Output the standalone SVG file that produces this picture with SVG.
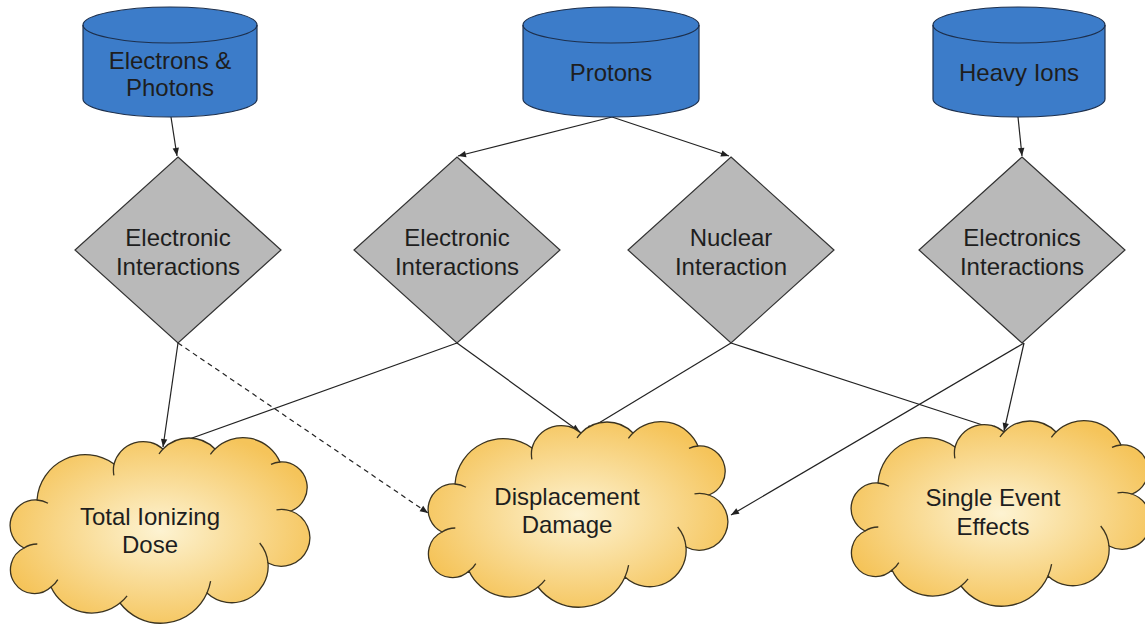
<svg xmlns="http://www.w3.org/2000/svg" xmlns:xlink="http://www.w3.org/1999/xlink" width="1145" height="625" viewBox="0 0 1145 625">
<style>
.cyl{fill:#3c7cc9;stroke:#1d2f4c;stroke-width:1.2}
.cylline{fill:none;stroke:#1d2f4c;stroke-width:1.2}
.dia{fill:#b9b9b9;stroke:#333;stroke-width:1.2}
.cloud{fill:url(#cg);stroke:#3a3320;stroke-width:1.3}
.curl{fill:none;stroke:#3a3320;stroke-width:1.3}
.t{font-family:"Liberation Sans",Arial,sans-serif;font-size:24px;fill:#1e1e1e;text-anchor:middle}
.c{fill:none;stroke:#222;stroke-width:1.2}
.dash{stroke-dasharray:5,4}
</style>
<defs>
<radialGradient id="cg" cx="0.5" cy="0.5" r="0.55">
<stop offset="0" stop-color="#fdf3d2"/>
<stop offset="1" stop-color="#f5c45a"/>
</radialGradient>
<marker id="arr" viewBox="0 0 10 10" refX="10" refY="5" markerWidth="9" markerHeight="8" orient="auto" markerUnits="userSpaceOnUse">
<path d="M0,1 L10,5 L0,9 Z" fill="#222"/>
</marker>
<g id="cloudShape">
<path class="cloud" d="M27,62 A48.5,48.5 0 0 1 104,26 A30.2,30.2 0 0 1 153,11 A36.2,36.2 0 0 1 205,11 A40.3,40.3 0 0 1 270,24 A25.4,25.4 0 0 1 281,73 A28.5,28.5 0 1 1 258,125 A36.4,36.4 0 0 1 197,155 A50.8,50.8 0 0 1 110,165 A44.9,44.9 0 0 1 41,149 A24,24 0 1 1 14,110 A25.4,25.4 0 0 1 27,62 Z"/>
<path class="curl" d="M27,62 A25.4,25.4 0 0 1 38,65.3 M103.9,37.4 A30.2,30.2 0 0 1 104,26 M149,16 A36.2,36.2 0 0 1 153,11 M200.4,16.3 A40.3,40.3 0 0 1 205,11 M261,26.4 A25.4,25.4 0 0 1 270,24 M266.5,71.8 A28.5,28.5 0 0 1 281,73 M249.7,105 A36.4,36.4 0 0 1 258,125 M200.6,143.2 A50.8,50.8 0 0 1 197,155 M117.1,157.8 A44.9,44.9 0 0 1 110,165 M47.8,141.6 A23.7,23.7 0 0 1 41,149 M14,110 A23.7,23.7 0 0 1 27.3,106"/>
</g>
</defs>
<rect width="1145" height="625" fill="#ffffff"/>

<g id="connectors">
<line class="c" x1="171" y1="117" x2="177" y2="156" marker-end="url(#arr)"/>
<line class="c" x1="612" y1="117" x2="458" y2="156" marker-end="url(#arr)"/>
<line class="c" x1="612" y1="117" x2="729" y2="156" marker-end="url(#arr)"/>
<line class="c" x1="1018" y1="117" x2="1022" y2="156" marker-end="url(#arr)"/>
<line class="c" x1="178" y1="343" x2="163" y2="447" marker-end="url(#arr)"/>
<line class="c dash" x1="178" y1="343" x2="428" y2="513" marker-end="url(#arr)"/>
<line class="c" x1="457" y1="343" x2="167" y2="447" marker-end="url(#arr)"/>
<line class="c" x1="457" y1="343" x2="580" y2="432" marker-end="url(#arr)"/>
<line class="c" x1="731" y1="343" x2="584" y2="432" marker-end="url(#arr)"/>
<line class="c" x1="731" y1="343" x2="1001" y2="431" marker-end="url(#arr)"/>
<line class="c" x1="1024" y1="343" x2="1004" y2="431" marker-end="url(#arr)"/>
<line class="c" x1="1024" y1="343" x2="731" y2="515" marker-end="url(#arr)"/>
</g>

<g id="src-electrons">
<path class="cyl" d="M83,25 A87,18 0 0 1 257,25 V99 A87,18 0 0 1 83,99 Z"/>
<path class="cylline" d="M83,25 A87,18 0 0 0 257,25"/>
<text class="t" x="170" y="69">Electrons &amp;</text>
<text class="t" x="170" y="96">Photons</text>
</g>
<g id="src-protons">
<path class="cyl" d="M523,25 A88,18 0 0 1 699,25 V99 A88,18 0 0 1 523,99 Z"/>
<path class="cylline" d="M523,25 A88,18 0 0 0 699,25"/>
<text class="t" x="611" y="81">Protons</text>
</g>
<g id="src-heavyions">
<path class="cyl" d="M933,25 A86,18 0 0 1 1105,25 V99 A86,18 0 0 1 933,99 Z"/>
<path class="cylline" d="M933,25 A86,18 0 0 0 1105,25"/>
<text class="t" x="1019" y="81">Heavy Ions</text>
</g>

<g id="dia-1">
<polygon class="dia" points="178,157 281,250 178,343 75,250"/>
<text class="t" x="178" y="246">Electronic</text>
<text class="t" x="178" y="275">Interactions</text>
</g>
<g id="dia-2">
<polygon class="dia" points="457,157 560,250 457,343 354,250"/>
<text class="t" x="457" y="246">Electronic</text>
<text class="t" x="457" y="275">Interactions</text>
</g>
<g id="dia-3">
<polygon class="dia" points="731,157 834,250 731,343 628,250"/>
<text class="t" x="731" y="246">Nuclear</text>
<text class="t" x="731" y="275">Interaction</text>
</g>
<g id="dia-4">
<polygon class="dia" points="1022,157 1125,250 1022,343 919,250"/>
<text class="t" x="1022" y="246">Electronics</text>
<text class="t" x="1022" y="275">Interactions</text>
</g>

<g id="cloud-tid">
<use xlink:href="#cloudShape" transform="translate(10,438)"/>
<text class="t" x="150" y="525">Total Ionizing</text>
<text class="t" x="150" y="553">Dose</text>
</g>
<g id="cloud-dd">
<use xlink:href="#cloudShape" transform="translate(428,422)"/>
<text class="t" x="567" y="505">Displacement</text>
<text class="t" x="567" y="533">Damage</text>
</g>
<g id="cloud-see">
<use xlink:href="#cloudShape" transform="translate(851,421)"/>
<text class="t" x="993" y="506">Single Event</text>
<text class="t" x="993" y="535">Effects</text>
</g>
</svg>
